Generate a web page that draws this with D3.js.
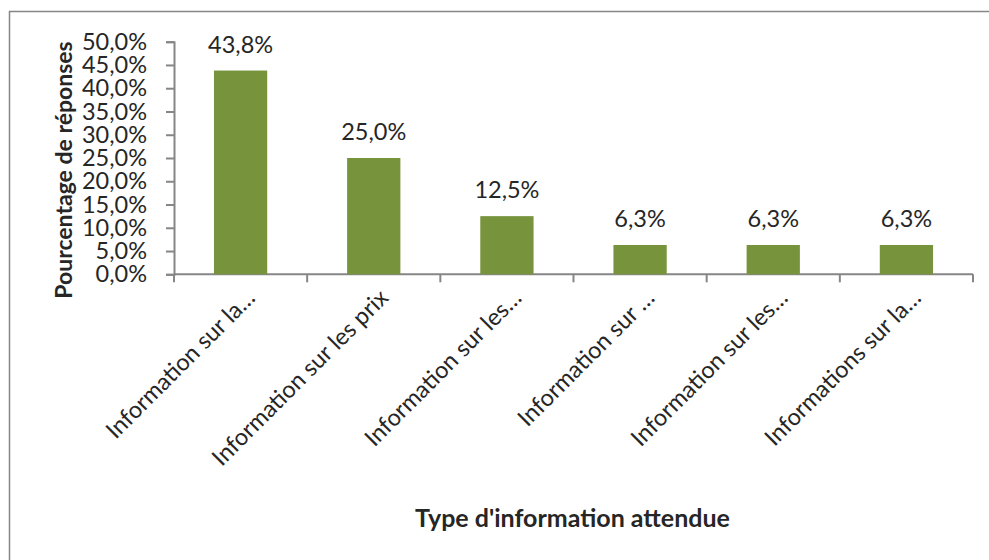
<!DOCTYPE html>
<html>
<head>
<meta charset="utf-8">
<script src="https://cdn.jsdelivr.net/npm/d3@7/dist/d3.min.js"></script>
<style>
  html, body { margin: 0; padding: 0; background: #fff; }
  svg { display: block; }
  text { font-family: Lato, "Open Sans", sans-serif; fill: #262626; }
</style>
</head>
<body>
<svg id="chart" width="989" height="560"></svg>
<script>
const categories = ["Information sur la…", "Information sur les prix", "Information sur les…", "Information sur …", "Information sur les…", "Informations sur la…"];
const values = [43.8, 25.0, 12.5, 6.3, 6.3, 6.3];
const yTicks = [0, 5, 10, 15, 20, 25, 30, 35, 40, 45, 50];
const yTitle = "Pourcentage de réponses";
const xTitle = "Type d'information attendue";

const svg = d3.select("#chart");
const axisColor = "#868686";
const barColor = "#77933C";
const fs = "23.5px";
const fmt = d => d.toFixed(1).replace(".", ",") + "%";

// frame
svg.append("rect").attr("x", 9.5).attr("y", 11.5).attr("width", 1000).attr("height", 600)
  .attr("fill", "none").attr("stroke", axisColor).attr("stroke-width", 1.5);

const plotL = 174, plotR = 973, plotT = 41.7, plotB = 274.3;
const x = d3.scaleBand().domain(d3.range(categories.length)).range([plotL, plotR]).padding(0);
const y = d3.scaleLinear().domain([0, 50]).range([plotB, plotT]);

// y axis
const yAxis = svg.append("g").attr("transform", `translate(${plotL},0)`)
  .call(d3.axisLeft(y).tickValues(yTicks).tickFormat(fmt).tickSize(8).tickPadding(19));
yAxis.select(".domain").attr("stroke", axisColor).attr("stroke-width", 2);
yAxis.selectAll(".tick line").attr("stroke", axisColor).attr("stroke-width", 2);
yAxis.selectAll(".tick text").style("font-size", fs).style("font-family", "Lato").attr("fill", "#262626");

// x axis line and ticks at boundaries
const xg = svg.append("g");
xg.append("line").attr("x1", plotL).attr("x2", plotR).attr("y1", plotB).attr("y2", plotB)
  .attr("stroke", axisColor).attr("stroke-width", 2);
const boundaries = d3.range(categories.length).map(i => x(i)).concat([x.range()[1]]);
xg.selectAll("line.tk").data(boundaries).join("line").attr("class", "tk")
  .attr("x1", d => d).attr("x2", d => d).attr("y1", plotB).attr("y2", plotB + 8)
  .attr("stroke", axisColor).attr("stroke-width", 2);

// bars
const bw = x.bandwidth() * 0.4;
svg.selectAll("rect.bar").data(values).join("rect").attr("class", "bar")
  .attr("x", (d, i) => x(i) + (x.bandwidth() - bw) / 2)
  .attr("y", d => y(d))
  .attr("width", bw)
  .attr("height", d => y(0) - y(d))
  .attr("fill", barColor);

// value labels
svg.selectAll("text.val").data(values).join("text").attr("class", "val")
  .attr("x", (d, i) => x(i) + x.bandwidth() / 2)
  .attr("y", d => y(d) - 18)
  .attr("text-anchor", "middle")
  .style("font-size", fs)
  .text(fmt);

// category labels
svg.selectAll("text.cat").data(categories).join("text").attr("class", "cat")
  .attr("transform", (d, i) => `translate(${x(i) + x.bandwidth() / 2 + 16},${plotB + 25}) rotate(-45)`)
  .attr("text-anchor", "end")
  .style("font-size", fs)
  .text(d => d);

// axis titles
svg.append("text")
  .attr("transform", `translate(72,170) rotate(-90)`)
  .attr("text-anchor", "middle")
  .style("font-size", "23px").style("font-weight", "bold")
  .text(yTitle);

svg.append("text")
  .attr("x", 572.5).attr("y", 527)
  .attr("text-anchor", "middle")
  .style("font-size", "25px").style("font-weight", "bold")
  .text(xTitle);
</script>
</body>
</html>
